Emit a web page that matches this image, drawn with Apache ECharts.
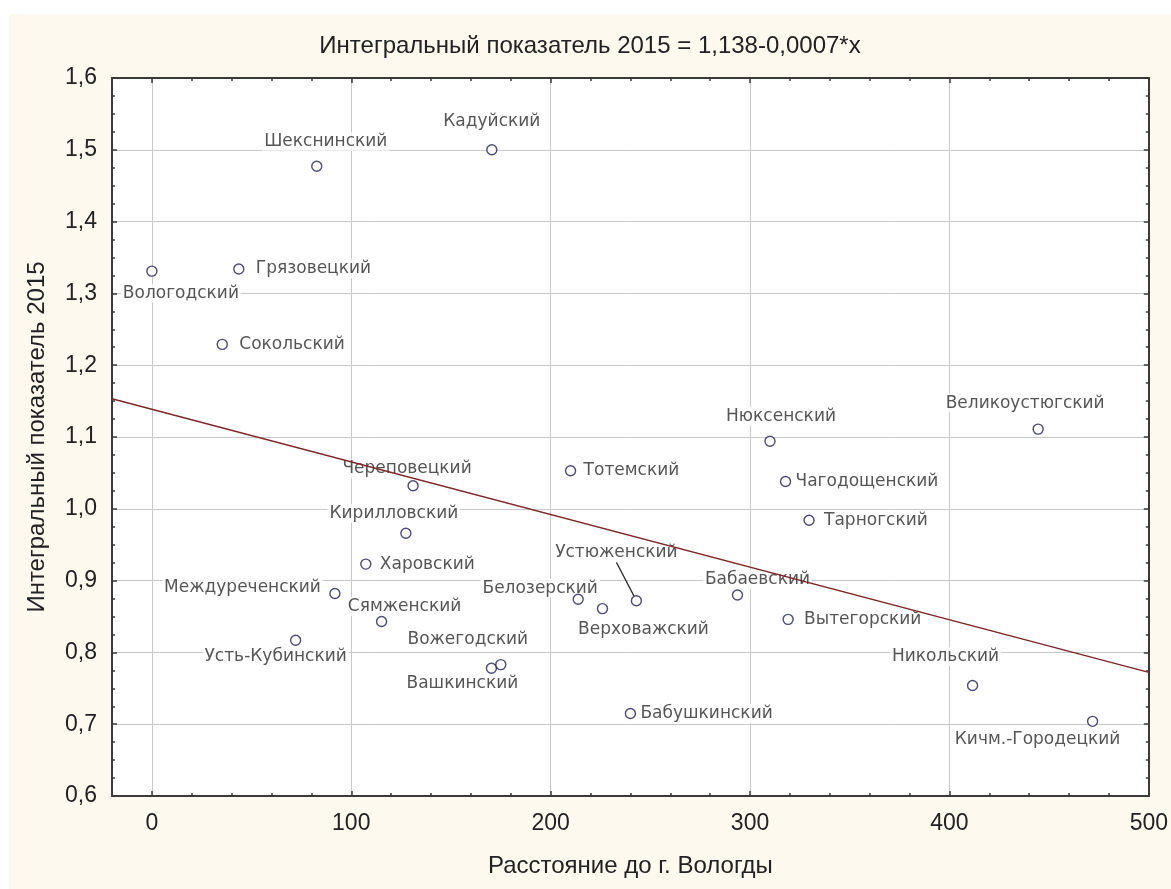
<!DOCTYPE html>
<html>
<head>
<meta charset="utf-8">
<script src="https://cdn.jsdelivr.net/npm/echarts@6/dist/echarts.min.js"></script>
<style>
  html, body { margin: 0; padding: 0; background: #ffffff; width: 1171px; height: 889px; overflow: hidden; }
  #chart { position: absolute; left: 9px; top: 14px; width: 1162px; height: 875px; background: #fdf9ee; }
</style>
</head>
<body>
<div id="chart"></div>
<script>
// Districts of Vologda oblast: distance to Vologda (km) and integral index 2015
const districts = [
  'Вологодский', 'Грязовецкий', 'Сокольский', 'Шекснинский', 'Кадуйский',
  'Череповецкий', 'Кирилловский', 'Харовский', 'Междуреченский', 'Сямженский',
  'Усть-Кубинский', 'Вашкинский', 'Вожегодский', 'Тотемский', 'Белозерский',
  'Верховажский', 'Устюженский', 'Бабушкинский', 'Бабаевский', 'Нюксенский',
  'Чагодощенский', 'Тарногский', 'Вытегорский', 'Никольский', 'Великоустюгский',
  'Кичм.-Городецкий'
];
const distanceKm = [
  0, 43.6, 35.3, 82.7, 170.5,
  131, 127.4, 107.3, 91.8, 115.2,
  72.1, 170.3, 175.0, 210, 213.8,
  226, 243, 240, 293.7, 310,
  317.8, 329.6, 319.1, 411.6, 444.5,
  471.8
];
const index2015 = [
  1.331, 1.334, 1.229, 1.477, 1.500,
  1.032, 0.966, 0.923, 0.882, 0.843,
  0.817, 0.778, 0.783, 1.053, 0.874,
  0.861, 0.872, 0.715, 0.880, 1.094,
  1.038, 0.984, 0.846, 0.754, 1.111,
  0.704
];

// Label placement for each district: [position, dx, dy] or [position, distance]
const labelPlacement = {
  'Вологодский': ['inside', 29, 22],
  'Грязовецкий': ['right', 10],
  'Сокольский': ['right', 10],
  'Шекснинский': ['inside', 9, -25],
  'Кадуйский': ['inside', 0, -28],
  'Череповецкий': ['inside', -6, -17],
  'Кирилловский': ['inside', -12, -20],
  'Харовский': ['right', 7],
  'Междуреченский': ['left', 7, -6],
  'Сямженский': ['inside', 23, -15],
  'Усть-Кубинский': ['inside', -20, 16],
  'Вашкинский': ['inside', -29, 15],
  'Вожегодский': ['inside', -33, -25],
  'Тотемский': ['right', 6],
  'Белозерский': ['inside', -38, -11],
  'Верховажский': ['inside', 41, 21],
  'Устюженский': ['inside', -20, -48],
  'Бабушкинский': ['right', 3],
  'Бабаевский': ['inside', 20, -15],
  'Нюксенский': ['inside', 11, -25],
  'Чагодощенский': ['right', 3],
  'Тарногский': ['right', 8],
  'Вытегорский': ['right', 9],
  'Никольский': ['inside', -27, -29],
  'Великоустюгский': ['inside', -13, -26],
  'Кичм.-Городецкий': ['inside', -55, 18]
};
const leaderLineFor = ['Устюженский'];

const xMin = -20, xMax = 500;
const yMin = 0.6, yMax = 1.6, yStep = 0.1;
const titleText = 'Интегральный показатель 2015 = 1,138-0,0007*x';
const xName = 'Расстояние до г. Вологды';
const yName = 'Интегральный показатель 2015';

// Least-squares fit of the index on distance
const n = distanceKm.length;
const mx = distanceKm.reduce((a, b) => a + b, 0) / n;
const my = index2015.reduce((a, b) => a + b, 0) / n;
let sxy = 0, sxx = 0;
for (let i = 0; i < n; i++) {
  sxy += (distanceKm[i] - mx) * (index2015[i] - my);
  sxx += (distanceKm[i] - mx) * (distanceKm[i] - mx);
}
const slope = sxy / sxx;
const intercept = my - slope * mx;
const fitLine = [[xMin, intercept + slope * xMin], [xMax, intercept + slope * xMax]];

const points = districts.map((name, i) => [distanceKm[i], index2015[i]]);

const labelData = districts.map((name, i) => {
  const p = labelPlacement[name];
  const label = { position: p[0] };
  if (p[0] === 'inside') {
    label.offset = [p[1], p[2]];
  } else {
    label.distance = p[1];
    if (p.length > 2) label.offset = [0, p[2]];
  }
  const item = { name: name, value: [distanceKm[i], index2015[i]], label: label };
  if (leaderLineFor.indexOf(name) >= 0) {
    item.labelLine = { show: true, lineStyle: { color: '#222', width: 1.3 } };
  }
  return item;
});

const axisColor = '#3a3a3a';
const tickFont = { fontFamily: 'Liberation Sans', fontSize: 23, color: '#222' };
const nameFont = { fontFamily: 'Liberation Sans', fontSize: 24, color: '#222' };

const frameLine = { show: true, onZero: false, lineStyle: { color: axisColor, width: 2 } };
const frameTick = { show: true, inside: true, length: 5, lineStyle: { color: axisColor, width: 1.5 } };
const frameMinor = { show: true, length: 3, lineStyle: { color: axisColor, width: 1.5 } };

const chart = echarts.init(document.getElementById('chart'), null, { renderer: 'canvas' });
chart.setOption({
  animation: false,
  title: {
    text: titleText,
    left: 'center',
    top: 20,
    padding: 0,
    textStyle: { fontFamily: 'Liberation Sans', fontSize: 24, fontWeight: 'normal', color: '#222' }
  },
  grid: {
    left: 103, top: 64, right: 22, bottom: 93,
    show: true, backgroundColor: '#ffffff', borderWidth: 0
  },
  xAxis: [
    {
      type: 'value', min: xMin, max: xMax, position: 'bottom',
      name: xName, nameLocation: 'middle', nameGap: 58, nameTextStyle: nameFont,
      axisLine: frameLine,
      axisTick: frameTick,
      minorTick: Object.assign({ splitNumber: 5 }, frameMinor),
      axisLabel: Object.assign({ margin: 16, formatter: v => (v < 0 ? '' : String(v)) }, tickFont),
      splitLine: { show: true, lineStyle: { color: '#c8c8c8', width: 1 } }
    },
    {
      type: 'value', min: xMin, max: xMax, position: 'top',
      axisLine: frameLine,
      axisTick: frameTick,
      minorTick: Object.assign({ splitNumber: 5 }, frameMinor),
      axisLabel: { show: false },
      splitLine: { show: false }
    }
  ],
  yAxis: [
    {
      type: 'value', min: yMin, max: yMax, interval: yStep, position: 'left',
      name: yName, nameLocation: 'middle', nameGap: 63, nameRotate: 90, nameTextStyle: nameFont,
      axisLine: frameLine,
      axisTick: frameTick,
      minorTick: Object.assign({ splitNumber: 4 }, frameMinor),
      axisLabel: Object.assign({ margin: 15, formatter: v => v.toFixed(1).replace('.', ',') }, tickFont),
      splitLine: { show: true, lineStyle: { color: '#c8c8c8', width: 1 } }
    },
    {
      type: 'value', min: yMin, max: yMax, interval: yStep, position: 'right',
      axisLine: frameLine,
      axisTick: frameTick,
      minorTick: Object.assign({ splitNumber: 4 }, frameMinor),
      axisLabel: { show: false },
      splitLine: { show: false }
    }
  ],
  series: [
    {
      // district names, on white boxes that sit over the grid
      type: 'scatter', z: 2, silent: true,
      symbol: 'circle', symbolSize: 10,
      itemStyle: { color: 'rgba(0,0,0,0)' },
      label: {
        show: true, formatter: '{b}',
        fontFamily: 'DejaVu Sans', fontSize: 17, color: '#2b2b2b',
        backgroundColor: '#ffffff', padding: [1, 2]
      },
      labelLine: { show: false },
      data: labelData
    },
    {
      type: 'scatter', z: 3, silent: true,
      symbol: 'circle', symbolSize: 10,
      itemStyle: { color: '#ffffff', borderColor: '#1e1e58', borderWidth: 1.4 },
      data: points
    },
    {
      type: 'line', z: 4, silent: true,
      symbol: 'none',
      lineStyle: { color: '#7e2626', width: 1.4 },
      data: fitLine
    }
  ]
});
</script>
</body>
</html>
